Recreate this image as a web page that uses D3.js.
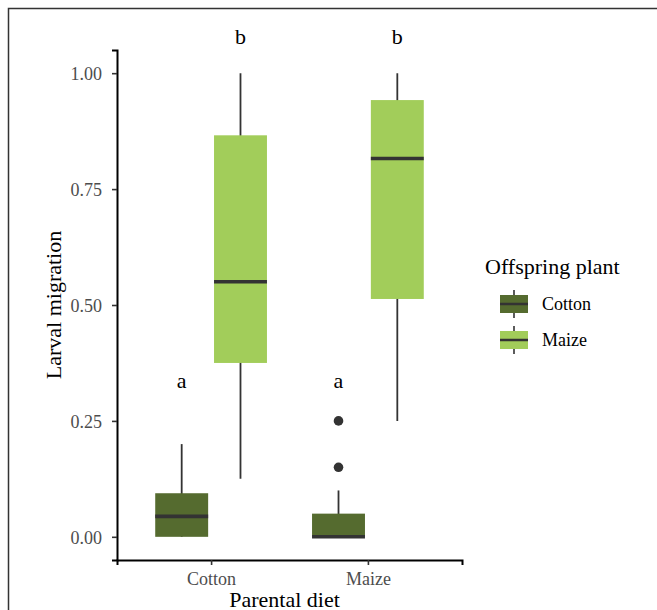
<!DOCTYPE html>
<html>
<head>
<meta charset="utf-8">
<script src="https://cdn.jsdelivr.net/npm/d3@7"></script>
<style>
  body { margin: 0; background: #fff; }
  text { font-family: "Liberation Serif", "Times New Roman", serif; }
</style>
</head>
<body>
<div id="chart"></div>
<script>
// Groups
const parentalDiet = ['Cotton', 'Maize'];
const offspringPlant = ['Cotton', 'Maize'];

// Box statistics, one entry per box (diet / offspring)
const boxDiet = ['Cotton', 'Cotton', 'Maize', 'Maize'];
const boxPlant = ['Cotton', 'Maize', 'Cotton', 'Maize'];
const whiskerLow = [0, 0.125, 0, 0.25];
const q1 = [0, 0.375, 0, 0.513];
const median = [0.044, 0.55, 0, 0.816];
const q3 = [0.094, 0.866, 0.05, 0.942];
const whiskerHigh = [0.2, 1, 0.1, 1];

// Outliers
const outlierDiet = ['Maize', 'Maize'];
const outlierPlant = ['Cotton', 'Cotton'];
const outlierValue = [0.15, 0.25];

// Significance letters
const letterText = ['a', 'b', 'a', 'b'];
const letterValue = [0.32, 1.062, 0.32, 1.062];

const yTicks = [0, 0.25, 0.5, 0.75, 1];
const colors = { Cotton: '#556B2F', Maize: '#A2CD5A' };

const width = 657;
const height = 610;
const margin = { top: 50, right: 195, bottom: 50, left: 117 };

const svg = d3.select('#chart')
  .append('svg')
  .attr('width', width)
  .attr('height', height);

// outer frame (only top/left edges are inside the picture)
svg.append('rect')
  .attr('x', 8.5).attr('y', 8.5)
  .attr('width', width + 20).attr('height', height + 20)
  .attr('fill', 'none')
  .attr('stroke', '#333')
  .attr('stroke-width', 1.5);

// Scales
const x0 = d3.scalePoint()
  .domain(parentalDiet)
  .range([margin.left, width - margin.right])
  .padding(0.6);
const step = x0.step();

const x1 = d3.scaleBand()
  .domain(offspringPlant)
  .range([-0.375 * step, 0.375 * step]);

const y = d3.scaleLinear()
  .domain([-0.05, 1.05])
  .range([height - margin.bottom, margin.top]);

const boxes = boxDiet.map((d, i) => ({
  diet: d, plant: boxPlant[i],
  lo: whiskerLow[i], q1: q1[i], med: median[i], q3: q3[i], hi: whiskerHigh[i]
}));
const cx = d => x0(d.diet) + x1(d.plant) + x1.bandwidth() / 2;
const bw = x1.bandwidth() * 0.9;

const g = svg.append('g');

// whiskers
g.selectAll('.whisker')
  .data(boxes)
  .enter().append('line')
  .attr('x1', cx).attr('x2', cx)
  .attr('y1', d => y(d.lo)).attr('y2', d => y(d.hi))
  .attr('stroke', '#333')
  .attr('stroke-width', 1.8);

// boxes
g.selectAll('.box')
  .data(boxes)
  .enter().append('rect')
  .attr('x', d => cx(d) - bw / 2)
  .attr('width', bw)
  .attr('y', d => y(d.q3))
  .attr('height', d => y(d.q1) - y(d.q3))
  .attr('fill', d => colors[d.plant]);

// medians
g.selectAll('.median')
  .data(boxes)
  .enter().append('line')
  .attr('x1', d => cx(d) - bw / 2).attr('x2', d => cx(d) + bw / 2)
  .attr('y1', d => y(d.med)).attr('y2', d => y(d.med))
  .attr('stroke', '#333')
  .attr('stroke-width', 3.6);

// outliers
g.selectAll('.outlier')
  .data(outlierValue)
  .enter().append('circle')
  .attr('cx', (d, i) => cx({ diet: outlierDiet[i], plant: outlierPlant[i] }))
  .attr('cy', d => y(d))
  .attr('r', 4.8)
  .attr('fill', '#333');

// letters
g.selectAll('.letter')
  .data(letterText)
  .enter().append('text')
  .attr('x', (d, i) => cx(boxes[i]))
  .attr('y', (d, i) => y(letterValue[i]))
  .attr('text-anchor', 'middle')
  .attr('font-size', 22)
  .attr('fill', '#000')
  .text(d => d);

// Axes
const yAxis = svg.append('g')
  .attr('transform', `translate(${margin.left},0)`)
  .call(d3.axisLeft(y).tickValues(yTicks).tickFormat(d3.format('.2f')).tickSizeOuter(0).tickSize(5).tickPadding(10));

const xAxis = svg.append('g')
  .attr('transform', `translate(0,${height - margin.bottom})`)
  .call(d3.axisBottom(x0).tickSizeOuter(0).tickSize(5).tickPadding(2));

[xAxis, yAxis].forEach(ax => {
  ax.select('.domain').attr('stroke', '#000').attr('stroke-width', 2);
  ax.selectAll('.tick line').attr('stroke', '#333').attr('stroke-width', 1.6);
  ax.selectAll('.tick text')
    .attr('fill', '#4d4d4d')
    .attr('font-size', 18)
    .attr('font-family', '"Liberation Serif", serif');
});
yAxis.selectAll('.tick text').attr('dy', '0.35em');
xAxis.selectAll('.tick text').attr('dy', '1em');

// Axis titles
svg.append('text')
  .attr('x', (margin.left + width - margin.right) / 2 - 5)
  .attr('y', 607)
  .attr('text-anchor', 'middle')
  .attr('font-size', 22)
  .text('Parental diet');

svg.append('text')
  .attr('transform', `translate(61,${(margin.top + height - margin.bottom) / 2}) rotate(-90)`)
  .attr('text-anchor', 'middle')
  .attr('font-size', 22)
  .text('Larval migration');

// Legend
const legend = svg.append('g').attr('transform', 'translate(485,0)');
legend.append('text')
  .attr('x', 0).attr('y', 274)
  .attr('font-size', 22)
  .text('Offspring plant');

const keys = legend.selectAll('.key')
  .data(offspringPlant)
  .enter().append('g')
  .attr('transform', (d, i) => `translate(15,${286 + i * 36})`);

keys.append('line')
  .attr('x1', 14).attr('x2', 14)
  .attr('y1', 4).attr('y2', 32)
  .attr('stroke', '#333')
  .attr('stroke-width', 1.6);
keys.append('rect')
  .attr('x', 0).attr('y', 9)
  .attr('width', 28).attr('height', 18)
  .attr('fill', d => colors[d]);
keys.append('line')
  .attr('x1', 0).attr('x2', 28)
  .attr('y1', 18).attr('y2', 18)
  .attr('stroke', '#333')
  .attr('stroke-width', 2.5);
keys.append('text')
  .attr('x', 42).attr('y', 24)
  .attr('font-size', 18)
  .text(d => d);
</script>
</body>
</html>
